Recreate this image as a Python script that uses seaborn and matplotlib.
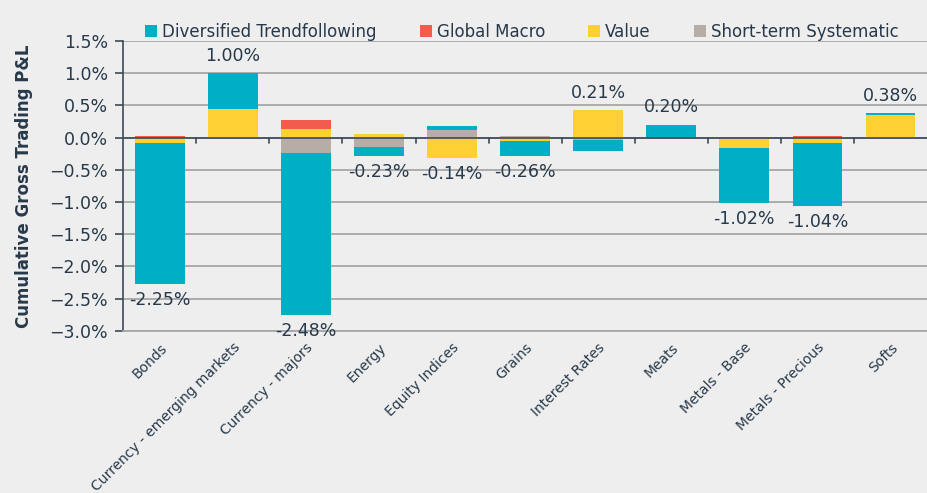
import numpy as np
import matplotlib
matplotlib.use("Agg")
import matplotlib.pyplot as plt
import seaborn as sns
from matplotlib.patches import Patch
from matplotlib.ticker import PercentFormatter, MultipleLocator

# Cumulative gross trading P&L by sector (in %), per strategy
categories = ['Bonds', 'Currency - emerging markets', 'Currency - majors', 'Energy',
              'Equity Indices', 'Grains', 'Interest Rates', 'Meats', 'Metals - Base',
              'Metals - Precious', 'Softs']
trend = [-2.19, 0.56, -2.52, -0.135, 0.06, -0.23, -0.17, 0.20, -0.85, -0.99, 0.03]
macro = [0.02, 0.0, 0.14, 0.0, 0.0, 0.0, 0.0, 0.0, 0.0, 0.03, 0.0]
value = [-0.08, 0.44, 0.14, 0.05, -0.32, -0.06, 0.42, 0.0, -0.145, -0.08, 0.35]
short_term = [0.0, 0.0, -0.24, -0.145, 0.12, 0.03, -0.04, 0.0, -0.025, 0.0, 0.0]

series_names = ['Diversified Trendfollowing', 'Global Macro', 'Value', 'Short-term Systematic']
colors = ['#00AFC5', '#F25C4C', '#FFD034', '#B6ADA7']
text_color = '#27394A'
bg = '#EEEEEE'

sns.set_theme(style='white')
plt.rcParams['font.family'] = ['DejaVu Sans']

fig = plt.figure(figsize=(9.27, 4.93), dpi=100, facecolor=bg)
ax = fig.add_axes([0.133, 0.329, 0.867, 0.588])
ax.set_facecolor(bg)

# stacking order from the zero line outwards: short-term, value, macro, trend
stack = np.array([short_term, value, macro, trend])
stack_colors = [colors[3], colors[2], colors[1], colors[0]]
pos = np.where(stack > 0, stack, 0).cumsum(axis=0)
neg = np.where(stack < 0, stack, 0).cumsum(axis=0)

for cum in (pos, neg):
    for i in range(3, -1, -1):
        sns.barplot(x=categories, y=cum[i], color=stack_colors[i], saturation=1,
                    width=0.68, linewidth=0, errorbar=None, ax=ax, zorder=3)

ax.set_ylim(-3.0, 1.5)
ax.set_xlim(-0.5, len(categories) - 0.5)
ax.yaxis.set_major_locator(MultipleLocator(0.5))
ax.yaxis.set_major_formatter(PercentFormatter(decimals=1))
ax.grid(axis='y', color='#A6A6A6', linewidth=1.3, zorder=0)
ax.set_axisbelow(True)

for s in ['top', 'right']:
    ax.spines[s].set_visible(False)
ax.spines['left'].set_color('#3B4A59')
ax.spines['left'].set_linewidth(1.2)
ax.spines['bottom'].set_color('#A6A6A6')
ax.spines['bottom'].set_linewidth(1.3)

# horizontal axis at zero with category separator ticks
ax.axhline(0, color='#3B4A59', linewidth=1.2, zorder=4)
for b in np.arange(len(categories) - 1) + 0.5:
    ax.plot([b, b], [0, -0.09], color='#3B4A59', linewidth=1.2, zorder=4)

ax.tick_params(axis='y', left=True, length=6, width=1.2, color='#3B4A59',
               labelsize=12.5, labelcolor=text_color, pad=5)
ax.tick_params(axis='x', bottom=False, labelsize=10, labelcolor=text_color, pad=1)
plt.setp(ax.get_xticklabels(), rotation=45, ha='right', rotation_mode='anchor')

ax.set_xlabel('')
ax.set_ylabel('Cumulative Gross Trading P&L', fontsize=12, fontweight='bold',
              color=text_color, labelpad=12)

# net total labels
totals = stack.sum(axis=0)
for i, t in enumerate(totals):
    if t >= 0:
        ax.annotate(f'{t:.2f}%', (i, pos[-1][i]), xytext=(0, 6), textcoords='offset points',
                    ha='center', va='bottom', fontsize=12.5, color=text_color, zorder=5)
    else:
        ax.annotate(f'{t:.2f}%', (i, neg[-1][i]), xytext=(0, -5), textcoords='offset points',
                    ha='center', va='top', fontsize=12.5, color=text_color, zorder=5)

handles = [Patch(facecolor=c, edgecolor='none') for c in colors]
fig.legend(handles, series_names, loc='center', bbox_to_anchor=(0.563, 0.935), ncol=4,
           frameon=False, fontsize=12, handlelength=0.7, handleheight=0.7,
           handletextpad=0.3, columnspacing=2.6, labelcolor=text_color)

fig.savefig('out.png', dpi=100, facecolor=bg)
